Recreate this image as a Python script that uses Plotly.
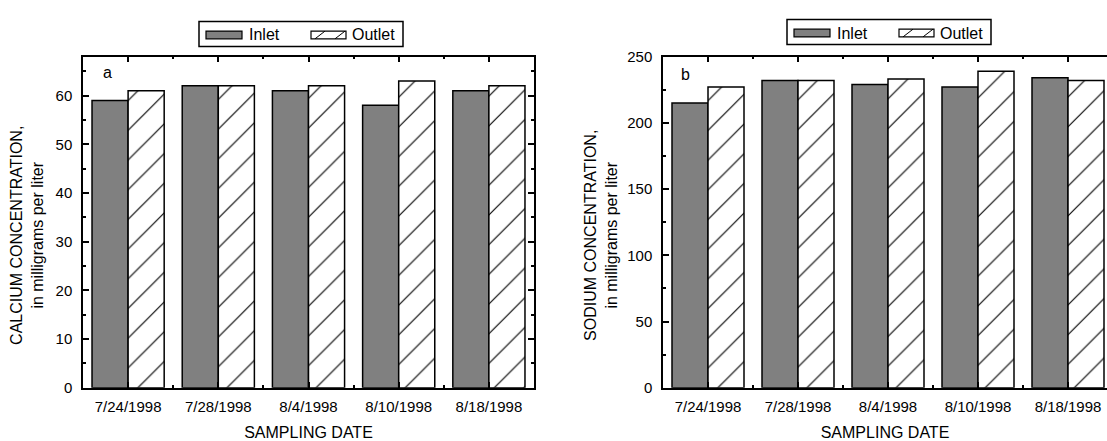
import plotly.graph_objects as go

dates = ["7/24/1998", "7/28/1998", "8/4/1998", "8/10/1998", "8/18/1998"]
series_names = ["Inlet", "Outlet"]
ca_inlet = [59, 62, 61, 58, 61]
ca_outlet = [61, 62, 62, 63, 62]
na_inlet = [215, 232, 229, 227, 234]
na_outlet = [227, 232, 233, 239, 232]

xpos = list(range(len(dates)))
W, H = 1107, 441
FONT = "Liberation Sans, Arial, sans-serif"
TICK_SIZE = 15
TITLE_SIZE = 16
INLET_COLOR = "#808080"

fig = go.Figure()

def add_pair(inlet, outlet, xa, ya):
    fig.add_trace(go.Bar(
        x=xpos, y=inlet, name=series_names[0], xaxis=xa, yaxis=ya, showlegend=False,
        marker=dict(color=INLET_COLOR, line=dict(color="black", width=1.5)),
    ))
    fig.add_trace(go.Bar(
        x=xpos, y=outlet, name=series_names[1], xaxis=xa, yaxis=ya, showlegend=False,
        marker=dict(color="white", line=dict(color="black", width=1.5),
                    pattern=dict(shape="/", fgcolor="black", bgcolor="white",
                                 fgopacity=1, size=21, solidity=0.055)),
    ))

add_pair(ca_inlet, ca_outlet, "x", "y")
add_pair(na_inlet, na_outlet, "x2", "y2")

ydom = [1 - 394 / H, 1 - 49.5 / H]

def xaxis_cfg(dom, rng):
    return dict(
        domain=dom, range=rng, tickmode="array", tickvals=xpos, ticktext=dates,
        showline=True, linecolor="black", linewidth=1.5, mirror="ticks",
        ticks="inside", ticklen=6, tickwidth=1.5, tickcolor="black",
        minor=dict(tickmode="array", tickvals=[p + 0.5 for p in xpos[:-1]],
                   ticks="inside", ticklen=3, tickwidth=1.5, tickcolor="black"),
        showgrid=False, zeroline=False, ticklabelstandoff=4,
        tickfont=dict(family=FONT, size=TICK_SIZE, color="black"),
        title=dict(text="SAMPLING DATE",
                   font=dict(family=FONT, size=TITLE_SIZE, color="black"),
                   standoff=13),
        fixedrange=True,
    )

def yaxis_cfg(anchor, rng, dtick, mirror):
    return dict(
        domain=ydom, anchor=anchor, range=rng, dtick=dtick, tick0=0,
        showline=True, linecolor="black", linewidth=1.5, mirror=mirror,
        ticks="inside", ticklen=6, tickwidth=1.5, tickcolor="black",
        minor=dict(dtick=dtick / 2, tick0=0, ticks="inside", ticklen=3,
                   tickwidth=1.5, tickcolor="black", showgrid=False),
        showgrid=False, zeroline=False, ticklabelstandoff=6,
        tickfont=dict(family=FONT, size=TICK_SIZE, color="black"),
        fixedrange=True,
    )

shapes = []
annotations = []

def px(x):
    return x / W

def py(y):
    return 1 - y / H

def add_legend(x0, y0):
    bw, bh = 204, 26
    shapes.append(dict(type="rect", xref="paper", yref="paper",
                       x0=px(x0), x1=px(x0 + bw), y0=py(y0), y1=py(y0 + bh),
                       line=dict(color="black", width=1.5), fillcolor="white"))
    sw, sh = 36, 8
    sy0 = y0 + 10
    ix = x0 + 7
    shapes.append(dict(type="rect", xref="paper", yref="paper",
                       x0=px(ix), x1=px(ix + sw), y0=py(sy0), y1=py(sy0 + sh),
                       line=dict(color="black", width=1.2), fillcolor=INLET_COLOR))
    annotations.append(dict(text=series_names[0], xref="paper", yref="paper",
                            x=px(ix + sw + 5), y=py(sy0 + sh / 2), xanchor="left",
                            yanchor="middle", showarrow=False,
                            font=dict(family=FONT, size=TITLE_SIZE, color="black")))
    ox = x0 + 112
    shapes.append(dict(type="rect", xref="paper", yref="paper",
                       x0=px(ox), x1=px(ox + sw - 1), y0=py(sy0), y1=py(sy0 + sh),
                       line=dict(color="black", width=1.2), fillcolor="white"))
    for k in (4, 24):
        shapes.append(dict(type="line", xref="paper", yref="paper",
                           x0=px(ox + k), y0=py(sy0 + sh), x1=px(ox + k + 10), y1=py(sy0),
                           line=dict(color="black", width=1)))
    annotations.append(dict(text=series_names[1], xref="paper", yref="paper",
                            x=px(ox + sw + 3), y=py(sy0 + sh / 2), xanchor="left",
                            yanchor="middle", showarrow=False,
                            font=dict(family=FONT, size=TITLE_SIZE, color="black")))

add_legend(199, 13)
add_legend(787, 11)

def add_ytitle(text, xc, yc):
    annotations.append(dict(text=text, xref="paper", yref="paper",
                            x=px(xc), y=py(yc), xanchor="center", yanchor="middle",
                            textangle=-90, showarrow=False, align="center",
                            font=dict(family=FONT, size=TITLE_SIZE, color="black")))

add_ytitle("CALCIUM CONCENTRATION,<br>in milligrams per liter", 27, 236)
add_ytitle("SODIUM CONCENTRATION,<br>in milligrams per liter", 601, 236)

annotations += [
    dict(text="a", xref="x domain", yref="y domain", x=0.04, y=0.952,
         showarrow=False, xanchor="left", yanchor="middle",
         font=dict(family=FONT, size=TITLE_SIZE, color="black")),
    dict(text="b", xref="x2 domain", yref="y2 domain", x=0.036, y=0.945,
         showarrow=False, xanchor="left", yanchor="middle",
         font=dict(family=FONT, size=TITLE_SIZE, color="black")),
]

fig.update_layout(
    width=W, height=H,
    margin=dict(l=0, r=0, t=0, b=0),
    paper_bgcolor="white", plot_bgcolor="white",
    barmode="group", bargap=0.2, bargroupgap=0,
    font=dict(family=FONT, size=TICK_SIZE, color="black"),
    showlegend=False,
    xaxis=xaxis_cfg([83 / W, 534 / W], [-0.5, 4.5]),
    yaxis=yaxis_cfg("x", [0, 68], 10, "ticks"),
    xaxis2=dict(xaxis_cfg([663 / W, 1.0], [-0.5, -0.5 + 444 / 90]), anchor="y2"),
    yaxis2=yaxis_cfg("x2", [0, 250], 50, False),
    shapes=shapes,
    annotations=annotations,
)

fig.write_html("out.html", config={"displayModeBar": False})
